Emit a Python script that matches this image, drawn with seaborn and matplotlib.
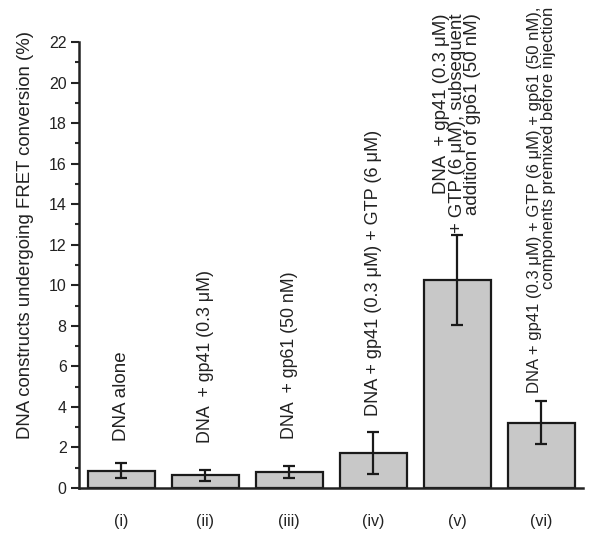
# Bar chart of FRET conversion for the six DNA construct conditions, with error bars.

import seaborn as sns
import matplotlib.pyplot as plt
import pandas as pd
from matplotlib.ticker import MultipleLocator

# Data
conditions = ['(i)', '(ii)', '(iii)', '(iv)', '(v)', '(vi)']
conversion = [0.86, 0.64, 0.80, 1.73, 10.27, 3.21]
errors = [0.36, 0.27, 0.31, 1.02, 2.22, 1.06]
descriptions = [
    'DNA alone',
    'DNA  + gp41 (0.3 \u03bcM)',
    'DNA  + gp61 (50 nM)',
    'DNA + gp41 (0.3 \u03bcM) + GTP (6 \u03bcM)',
    'DNA  + gp41 (0.3 \u03bcM)\n+ GTP (6 \u03bcM), subsequent\naddition of gp61 (50 nM)',
    'DNA + gp41 (0.3 \u03bcM) + GTP (6 \u03bcM) + gp61 (50 nM),\ncomponents premixed before injection',
]

df = pd.DataFrame({'Condition': conditions, 'Conversion': conversion})

sns.set_style('ticks')
plt.rcParams['font.family'] = ['Liberation Sans', 'DejaVu Sans']

fig = plt.figure(figsize=(6, 5.42), dpi=100)
ax = fig.add_axes([0.132, 0.0996, 0.840, 0.8229])

sns.barplot(x='Condition', y='Conversion', data=df, color='#c8c8c8',
            edgecolor='#1a1a1a', linewidth=1.6, width=0.8, saturation=1, ax=ax)
ax.errorbar(range(len(conditions)), conversion, yerr=errors, fmt='none',
            ecolor='#1a1a1a', elinewidth=1.6, capsize=4, capthick=1.6)

# vertical labels above each bar
label_gap = [1.1, 1.3, 1.3, 0.8, 0.1, 0.4]
label_size = [13.5, 12.8, 12.8, 13.1, 13.4, 12.0]
for i, text in enumerate(descriptions):
    ax.text(i, conversion[i] + errors[i] + label_gap[i], text, rotation=90,
            ha='center', va='bottom', multialignment='right',
            fontsize=label_size[i], color='#222222', linespacing=0.9)

ax.set_xlim(-0.5, 5.5)
ax.set_ylim(0, 22)
ax.yaxis.set_major_locator(MultipleLocator(2))
ax.yaxis.set_minor_locator(MultipleLocator(1))
ax.tick_params(axis='y', which='major', direction='out', length=5.5, width=1.5,
               pad=3.5, labelsize=11.5, colors='#222222')
ax.tick_params(axis='y', which='minor', direction='out', length=3, width=1.5)
ax.tick_params(axis='x', length=0, pad=19, labelsize=11.5, labelcolor='#222222')
ax.set_xlabel('')
ax.set_ylabel('DNA constructs undergoing FRET conversion (%)', fontsize=13.4,
              color='#222222')
ax.yaxis.set_label_coords(-0.09, 0.567)
sns.despine(ax=ax)
for side in ['left', 'bottom']:
    ax.spines[side].set_linewidth(1.8)
    ax.spines[side].set_color('#222222')

plt.savefig('out.png', dpi=100)
